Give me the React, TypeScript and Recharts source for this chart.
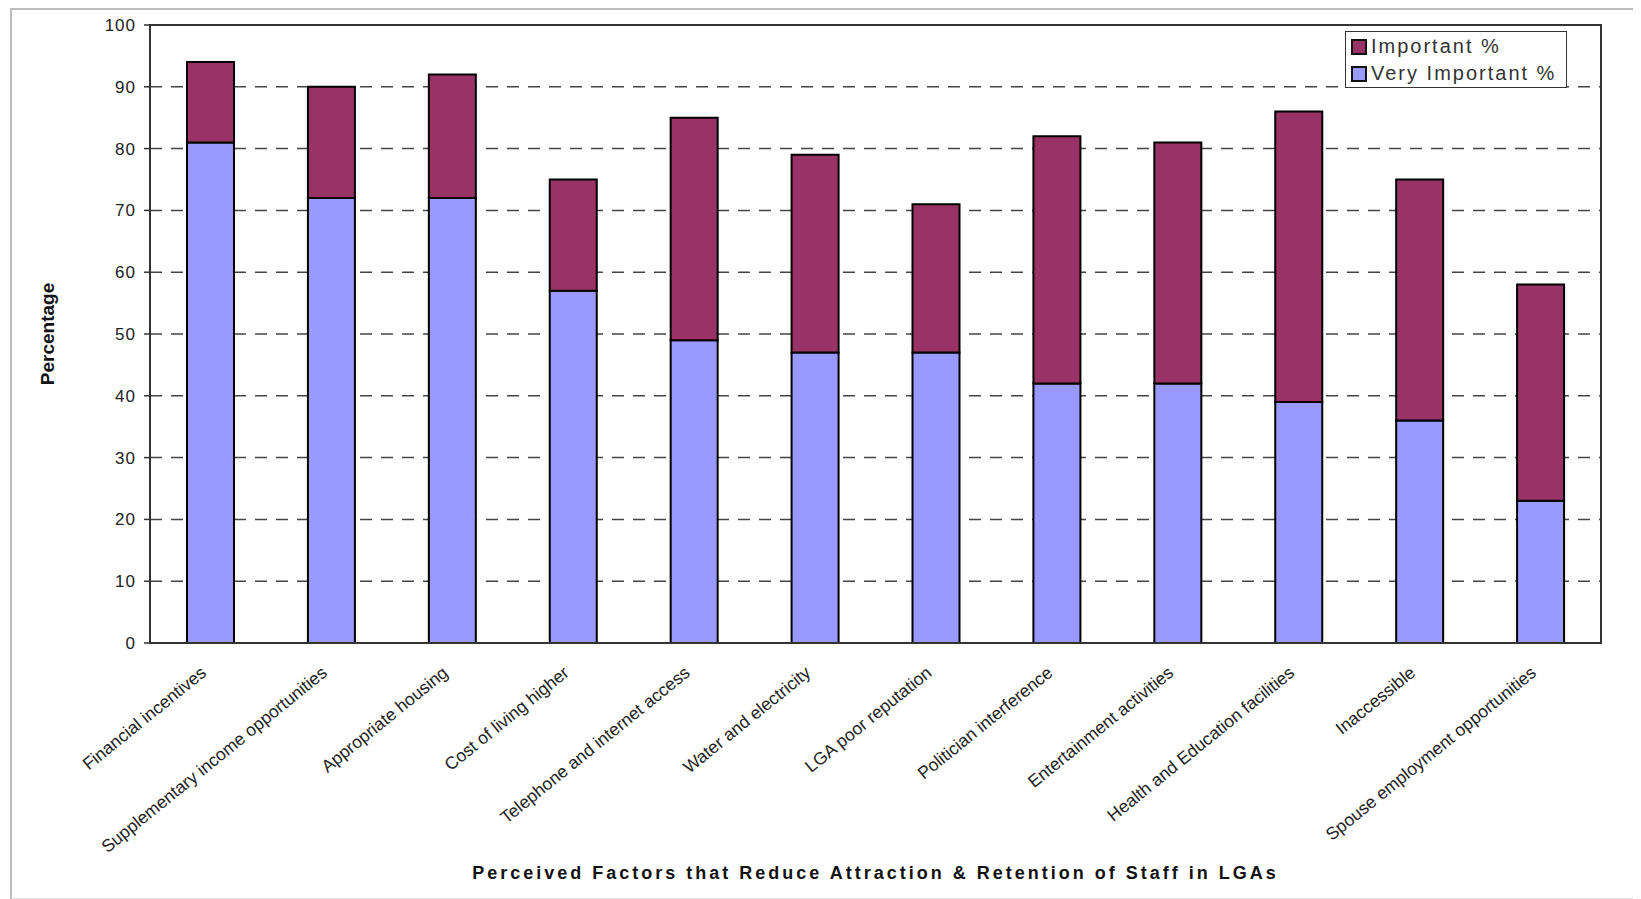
import React from 'react'
import { BarChart, Bar, XAxis, YAxis, CartesianGrid, ReferenceArea } from 'recharts'

const factors = [
  'Financial incentives',
  'Supplementary income opportunities',
  'Appropriate housing',
  'Cost of living higher',
  'Telephone and internet access',
  'Water and electricity',
  'LGA poor reputation',
  'Politician interference',
  'Entertainment activities',
  'Health and Education facilities',
  'Inaccessible',
  'Spouse employment opportunities',
]
const veryImportant = [81, 72, 72, 57, 49, 47, 47, 42, 42, 39, 36, 23]
const important = [13, 18, 20, 18, 36, 32, 24, 40, 39, 47, 39, 35]
const yTicks = [0, 10, 20, 30, 40, 50, 60, 70, 80, 90, 100]

const data = factors.map((name, i) => ({
  name,
  veryImportant: veryImportant[i],
  important: important[i],
}))

const FONT = 'Arial, "Liberation Sans", sans-serif'
const VI_COLOR = '#9999FF'
const I_COLOR = '#993366'

const XTick = ({ x, y, payload }: any) => (
  <g transform={`translate(${x - 7},${y + 27})`}>
    <text
      x={0}
      y={0}
      dy="0.35em"
      textAnchor="end"
      transform="rotate(-39)"
      fontSize={17.5}
      fontFamily={FONT}
      fill="#222"
    >
      {payload.value}
    </text>
  </g>
)

const YLabel = ({ viewBox }: any) => {
  const cx = 47
  const cy = viewBox.y + viewBox.height / 2
  return (
    <text
      x={cx}
      y={cy}
      textAnchor="middle"
      dominantBaseline="central"
      transform={`rotate(-90, ${cx}, ${cy})`}
      fontSize={19}
      fontWeight="bold"
      fontFamily={FONT}
      fill="#111"
    >
      Percentage
    </text>
  )
}

const legendItems = [
  { label: 'Important %', color: I_COLOR },
  { label: 'Very Important %', color: VI_COLOR },
]

export default function App() {
  return (
    <div style={{ position: 'relative', width: 1641, height: 899, margin: '-8px 0 0 -8px', background: '#fff' }}>
      <div
        style={{
          position: 'absolute',
          left: 10,
          top: 8,
          width: 1640,
          height: 888,
          borderLeft: '2px solid #bbb',
          borderTop: '2px solid #bbb',
          borderBottom: '2px solid #ddd',
        }}
      />
      <div style={{ position: 'absolute', left: 0, top: 0 }}>
        <BarChart
          width={1641}
          height={899}
          data={data}
          margin={{ top: 25, right: 40, left: 30, bottom: 0 }}
          barSize={47}
        >
          <CartesianGrid vertical={false} stroke="#444" strokeWidth={1.5} strokeDasharray="12 9" />
          <XAxis
            dataKey="name"
            interval={0}
            tick={<XTick />}
            tickLine={false}
            tickSize={0}
            tickMargin={0}
            height={256}
            axisLine={{ stroke: '#333', strokeWidth: 2 }}
            label={{
              value: 'Perceived Factors that Reduce Attraction & Retention of Staff in LGAs',
              position: 'insideBottom',
              offset: 20,
              fontSize: 18,
              fontWeight: 'bold',
              fontFamily: FONT,
              fill: '#111',
              letterSpacing: 3,
            }}
          />
          <YAxis
            domain={[0, 100]}
            ticks={yTicks}
            width={120}
            interval={0}
            tickSize={6}
            tickMargin={8}
            tick={{ fontSize: 17, fontFamily: FONT, fill: '#222', letterSpacing: 1 }}
            tickLine={{ stroke: '#333', strokeWidth: 1.5 }}
            axisLine={{ stroke: '#333', strokeWidth: 2 }}
            label={{ content: YLabel }}
          />
          <ReferenceArea y1={0} y2={100} fill="none" stroke="#333" strokeWidth={2} />
          <Bar dataKey="veryImportant" stackId="a" fill={VI_COLOR} stroke="#000" strokeWidth={2} isAnimationActive={false} />
          <Bar dataKey="important" stackId="a" fill={I_COLOR} stroke="#000" strokeWidth={2} isAnimationActive={false} />
        </BarChart>
      </div>
      <div
        style={{
          position: 'absolute',
          left: 1345,
          top: 31,
          width: 222,
          height: 57,
          border: '1.5px solid #333',
          background: '#fff',
          fontFamily: FONT,
          fontSize: 20,
          color: '#333',
          padding: '1px 0 0 5px',
          boxSizing: 'border-box',
        }}
      >
        {legendItems.map((it) => (
          <div key={it.label} style={{ display: 'flex', alignItems: 'center', height: 27, letterSpacing: 2 }}>
            <span
              style={{
                display: 'inline-block',
                width: 12,
                height: 12,
                background: it.color,
                border: '2px solid #111',
                marginRight: 4,
              }}
            />
            {it.label}
          </div>
        ))}
      </div>
    </div>
  )
}
